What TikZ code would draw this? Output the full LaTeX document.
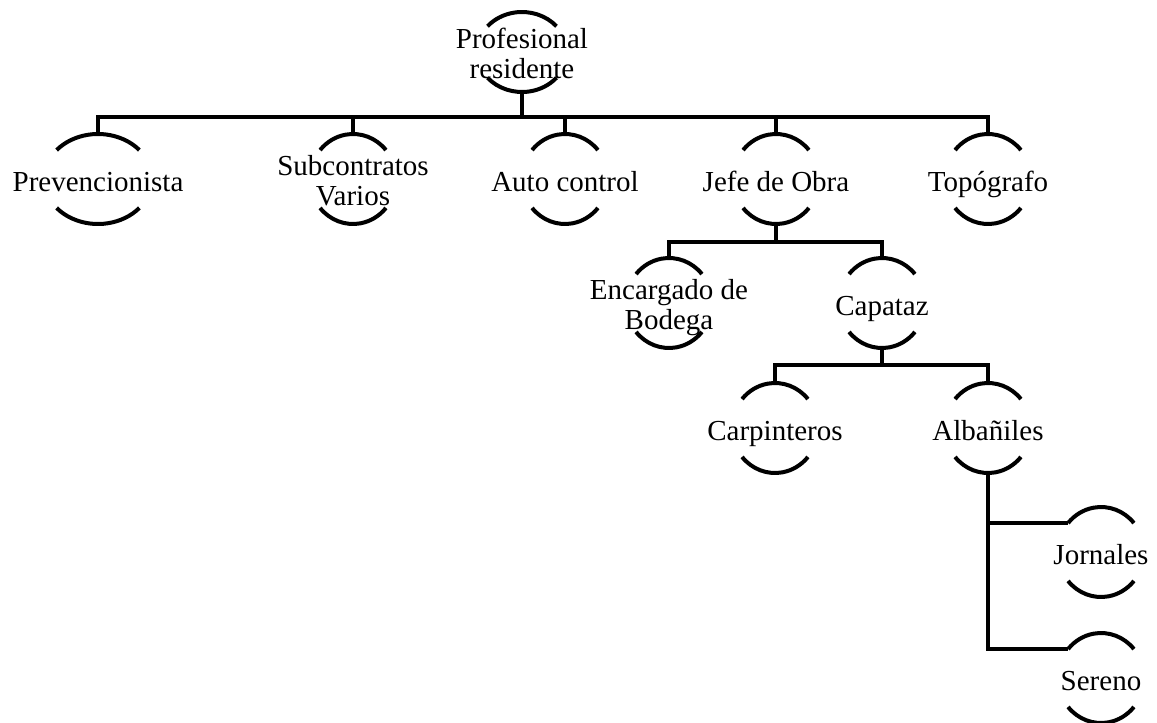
\documentclass[tikz,border=0pt]{standalone}
\usepackage{fontspec}
\setmainfont{Liberation Serif}
\usepackage{tikz}
\usetikzlibrary{calc}
\usetikzlibrary{positioning}

\begin{document}
\begin{tikzpicture}[x=1pt, y=1pt,
		role/.style = {align=center, inner sep=0pt, minimum height=90pt, text height=28pt, text depth=4pt, font=\fontsize{29}{30}\selectfont},
		tworole/.style = {role, text height=56pt},
		rim/.style = {line width=4pt},
		link/.style = {line width=4pt}]
	\useasboundingbox (0,0) rectangle (1157,-723);

	\node[tworole, minimum height=80pt] (pr) at (522,-52) {Profesional\\residente};
	\node[role] (prev) at (98,-179) {Prevencionista};
	\node[tworole] (sub) at (353,-179) {Subcontratos\\Varios};
	\node[role] (auto) at (565,-179) {Auto control};
	\node[role] (jefe) at (776,-179) {Jefe de Obra};
	\node[role] (topo) at (988,-179) {Topógrafo};
	\node[tworole] (enc) at (669,-303) {Encargado de\\Bodega};
	\node[role] (cap) at (882,-303) {Capataz};
	\node[role] (carp) at (775,-428) {Carpinteros};
	\node[role] (alb) at (988,-428) {Albañiles};
	\node[role] (jorn) at (1101,-552) {Jornales};
	\node[role] (ser) at (1101,-678) {Sereno};

	\foreach \n/\rx/\ry in {pr/45/40, prev/54/45, sub/43/45, auto/43/45, jefe/43/45, topo/43/45,
			enc/43/45, cap/43/45, carp/43/45, alb/43/45, jorn/43/45, ser/43/45} {
		\draw[rim] ($(\n.center)+(40:\rx pt and \ry pt)$) arc[start angle=40, end angle=140, x radius=\rx pt, y radius=\ry pt];
		\draw[rim] ($(\n.center)+(220:\rx pt and \ry pt)$) arc[start angle=220, end angle=320, x radius=\rx pt, y radius=\ry pt];
	}

	\foreach \c in {prev, sub, auto, jefe, topo}
		\draw[link] (pr.south) -- ++(0,-25) -| (\c.north);
	\foreach \c in {enc, cap}
		\draw[link] (jefe.south) -- ++(0,-18) -| (\c.north);
	\foreach \c in {carp, alb}
		\draw[link] (cap.south) -- ++(0,-17) -| (\c.north);
	\foreach \c in {jorn, ser}
		\draw[link] (alb.south) |- ($(\c.center)+(140:43pt and 45pt)$);
\end{tikzpicture}
\end{document}
